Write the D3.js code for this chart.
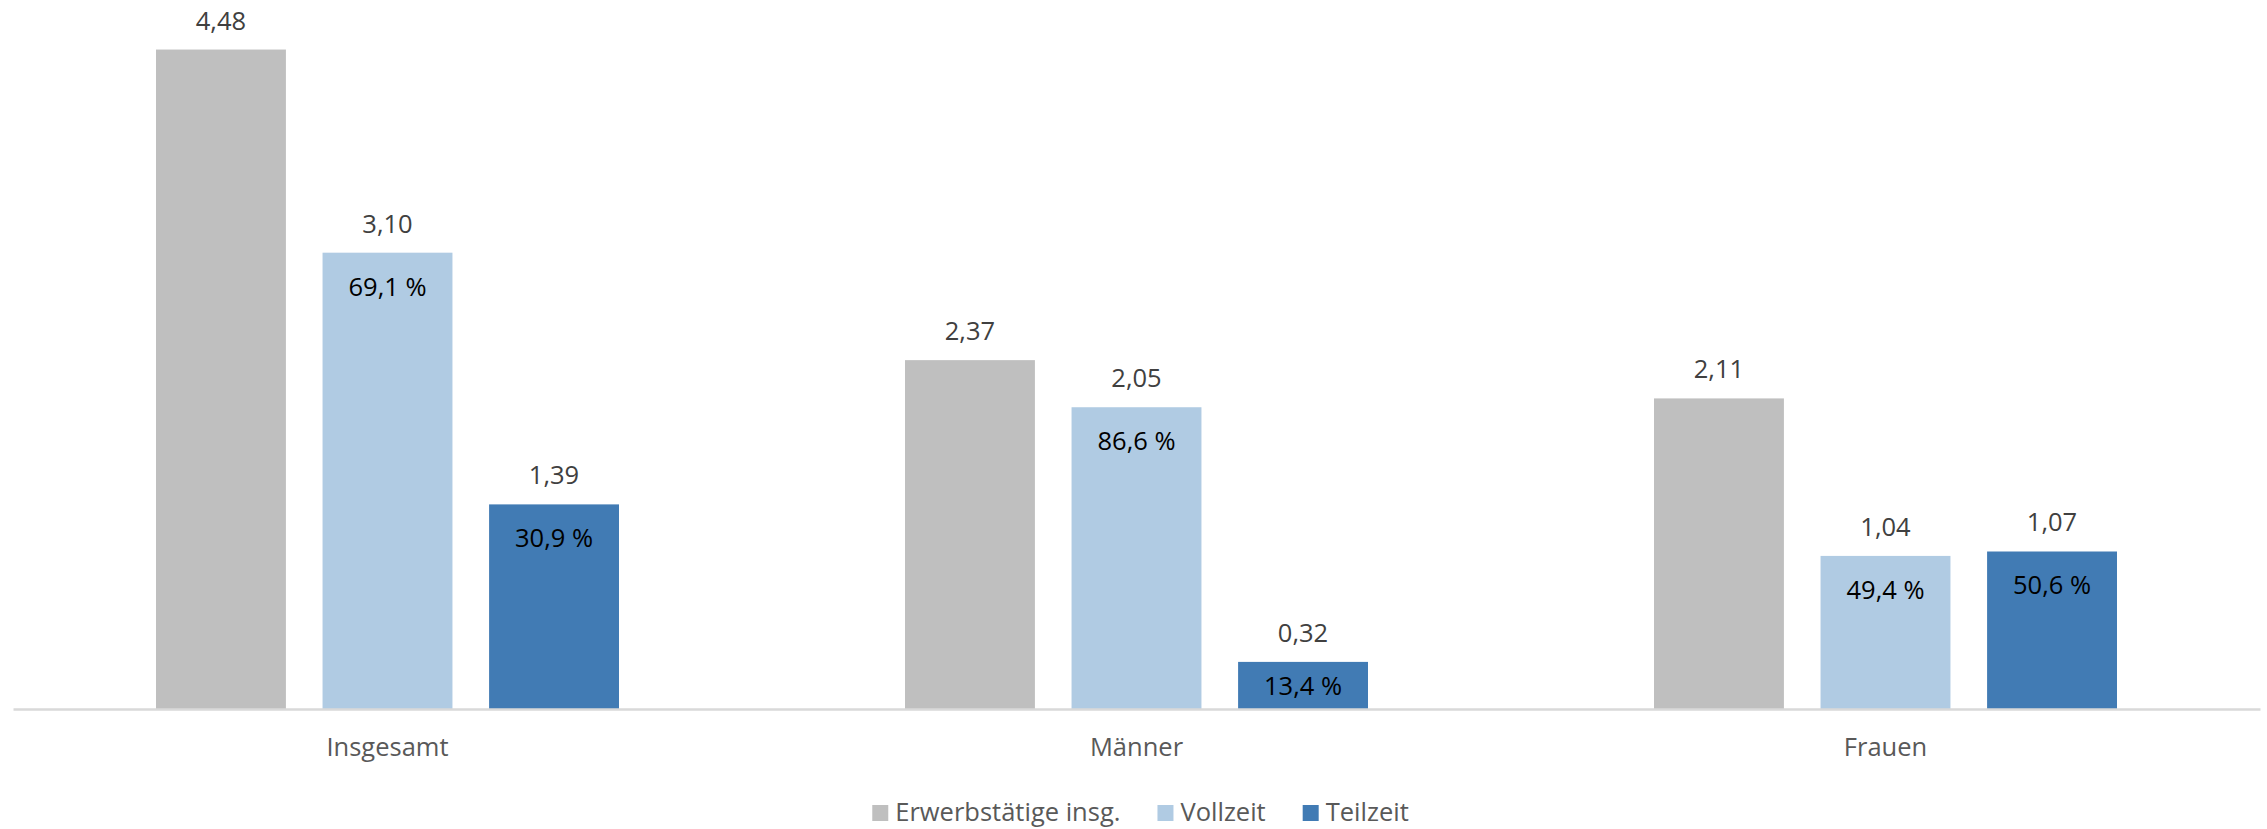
<!DOCTYPE html>
<html>
<head>
<meta charset="utf-8">
<script src="https://cdn.jsdelivr.net/npm/d3@7"></script>
<style>
  html, body { margin: 0; padding: 0; background: #fff; }
  svg { display: block; font-family: "Open Sans", "Noto Sans", sans-serif; }
</style>
</head>
<body>
<svg id="chart" width="2267" height="829"></svg>
<script>
// Erwerbstätige nach Arbeitszeit (Mio.)
const categories = ["Insgesamt", "Männer", "Frauen"];
const seriesNames = ["Erwerbstätige insg.", "Vollzeit", "Teilzeit"];
const totalValues = [4.48, 2.37, 2.11];
const fullTimeValues = [3.10, 2.05, 1.04];
const partTimeValues = [1.39, 0.32, 1.07];
const fullTimeShare = ["69,1 %", "86,6 %", "49,4 %"];
const partTimeShare = ["30,9 %", "13,4 %", "50,6 %"];

const colors = ["#BFBFBF", "#B0CBE3", "#417BB4"];

const rows = categories.map((c, i) => ({
  category: c,
  bars: [
    { series: seriesNames[0], value: totalValues[i], share: null },
    { series: seriesNames[1], value: fullTimeValues[i], share: fullTimeShare[i] },
    { series: seriesNames[2], value: partTimeValues[i], share: partTimeShare[i] }
  ]
}));

const svg = d3.select("#chart");
const fmt = v => d3.format(".2f")(v).replace(".", ",");

const x0 = d3.scaleBand().domain(categories).range([13, 2260]).padding(0);
const x1 = d3.scaleBand().domain(seriesNames)
  .range([143, x0.bandwidth() - 143]).paddingInner(0.22).paddingOuter(0);
const y = d3.scaleLinear().domain([0, 5]).range([709, 709 - 147.2 * 5]);
const color = d3.scaleOrdinal().domain(seriesNames).range(colors);

const groups = svg.append("g").selectAll("g.group")
  .data(rows).join("g")
  .attr("class", "group")
  .attr("transform", d => `translate(${x0(d.category)},0)`);

groups.selectAll("rect")
  .data(d => d.bars).join("rect")
  .attr("x", d => x1(d.series))
  .attr("width", x1.bandwidth())
  .attr("y", d => y(d.value))
  .attr("height", d => y(0) - y(d.value))
  .attr("fill", d => color(d.series));

// value labels above the bars
groups.selectAll("text.value")
  .data(d => d.bars).join("text")
  .attr("class", "value")
  .attr("x", d => x1(d.series) + x1.bandwidth() / 2)
  .attr("y", d => y(d.value) - 20)
  .attr("text-anchor", "middle")
  .attr("font-size", 25.5)
  .attr("fill", "#404040")
  .text(d => fmt(d.value));

// share labels inside the bars
groups.selectAll("text.share")
  .data(d => d.bars.filter(b => b.share)).join("text")
  .attr("class", "share")
  .attr("x", d => x1(d.series) + x1.bandwidth() / 2)
  .attr("y", d => y(d.value) + Math.min(43, (y(0) - y(d.value)) * 0.7))
  .attr("text-anchor", "middle")
  .attr("font-size", 25.5)
  .attr("fill", "#000")
  .text(d => d.share);

// category axis
const xAxis = svg.append("g")
  .attr("transform", `translate(0,${y(0)})`)
  .call(d3.axisBottom(x0).tickSize(0).tickPadding(29));
xAxis.select(".domain").attr("stroke", "#D9D9D9").attr("stroke-width", 2.5);
xAxis.selectAll("text")
  .attr("font-size", 25.5)
  .attr("fill", "#595959")
  .attr("font-family", "\"Open Sans\", \"Noto Sans\", sans-serif");

// legend
const legend = svg.append("g").attr("class", "legend");
const items = legend.selectAll("g").data(seriesNames).join("g");
items.append("rect")
  .attr("width", 16).attr("height", 16)
  .attr("y", -16)
  .attr("fill", d => color(d));
items.append("text")
  .attr("x", 23)
  .attr("font-size", 25.5)
  .attr("fill", "#595959")
  .text(d => d);
let offset = 0;
items.each(function () {
  const g = d3.select(this);
  g.attr("transform", `translate(${offset},0)`);
  offset += this.getBBox().width + 37;
});
const legendWidth = offset - 37;
legend.attr("transform", `translate(${(13 + 2260) / 2 - legendWidth / 2 + 4},821)`);
</script>
</body>
</html>
